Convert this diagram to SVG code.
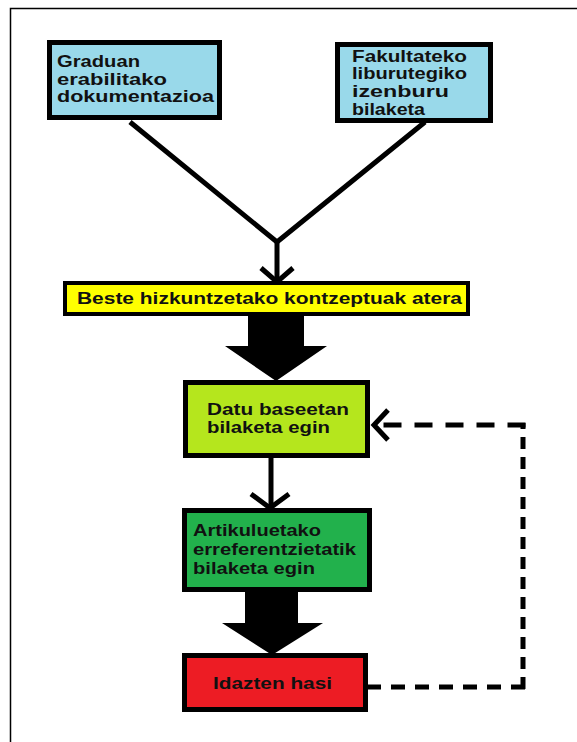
<svg xmlns="http://www.w3.org/2000/svg" width="577" height="742" viewBox="0 0 577 742">
<style>
.box{stroke:#000;stroke-width:5}
.t{font-family:"Liberation Sans",Arial,sans-serif;font-weight:bold;font-size:16.5px;fill:#111}
.ln{fill:none;stroke:#000;stroke-width:5;stroke-linecap:butt;stroke-linejoin:miter}
.dash{fill:none;stroke:#000;stroke-width:5}
.big{fill:#000}
</style>
<rect width="577" height="742" fill="#fff"/>
<path d="M10.5,742 V8.5 H577" fill="none" stroke="#000" stroke-width="1.5"/>

<g id="connectors">
  <polyline class="ln" points="130,122 277,242 425,122"/>
  <line class="ln" x1="277" y1="242" x2="277" y2="281"/>
  <polyline class="ln" points="261,268 277,282 293,268"/>
  <polygon class="big" points="248,315 304,315 304,346 327,346 276,381 225,346 248,346"/>
  <line class="ln" x1="271" y1="458" x2="271" y2="507"/>
  <polyline class="ln" points="251,494 270,508 289,494"/>
  <polygon class="big" points="245,592 298,592 298,623 323,623 272,655 222,623 245,623"/>
  <line class="dash" x1="367" y1="687" x2="525.5" y2="687" stroke-dasharray="14 10"/>
  <line class="dash" x1="523" y1="689" x2="523" y2="423" stroke-dasharray="12 8"/>
  <line class="dash" x1="525.5" y1="425" x2="375" y2="425" stroke-dasharray="18 13"/>
  <polyline class="ln" points="388,410 374,425 388,440"/>
</g>

<g id="n1">
  <rect class="box" x="49.5" y="42.5" width="170" height="75" fill="#99d9ea"/>
  <text class="t" x="57" y="67" textLength="83" lengthAdjust="spacingAndGlyphs">Graduan</text>
  <text class="t" x="57" y="84.5" textLength="110" lengthAdjust="spacingAndGlyphs">erabilitako</text>
  <text class="t" x="57" y="102" textLength="157" lengthAdjust="spacingAndGlyphs">dokumentazioa</text>
</g>
<g id="n2">
  <rect x="337.5" y="44.5" width="153" height="76" fill="#99d9ea"/>
  <text class="t" x="352" y="62" textLength="115" lengthAdjust="spacingAndGlyphs">Fakultateko</text>
  <text class="t" x="352" y="79" textLength="115" lengthAdjust="spacingAndGlyphs">liburutegiko</text>
  <text class="t" x="352" y="96.5" textLength="97" lengthAdjust="spacingAndGlyphs">izenburu</text>
  <text class="t" x="352" y="114.5" textLength="73" lengthAdjust="spacingAndGlyphs">bilaketa</text>
  <rect class="box" x="337.5" y="44.5" width="153" height="76" fill="none"/>
</g>
<g id="n3">
  <rect x="65" y="283" width="403" height="31" fill="#ffff00" stroke="#000" stroke-width="4"/>
  <text class="t" x="77" y="304" textLength="385" lengthAdjust="spacingAndGlyphs" style="font-size:17px">Beste hizkuntzetako kontzeptuak atera</text>
</g>
<g id="n4">
  <rect class="box" x="185.5" y="382.5" width="182" height="73" fill="#b5e61d"/>
  <text class="t" x="207" y="415" textLength="142" lengthAdjust="spacingAndGlyphs">Datu baseetan</text>
  <text class="t" x="207" y="432.5" textLength="123" lengthAdjust="spacingAndGlyphs">bilaketa egin</text>
</g>
<g id="n5">
  <rect class="box" x="184.5" y="510.5" width="185" height="79" fill="#22b14c"/>
  <text class="t" x="193" y="536" textLength="128" lengthAdjust="spacingAndGlyphs">Artikuluetako</text>
  <text class="t" x="193" y="555" textLength="163" lengthAdjust="spacingAndGlyphs">erreferentzietatik</text>
  <text class="t" x="193" y="573.5" textLength="122" lengthAdjust="spacingAndGlyphs">bilaketa egin</text>
</g>
<g id="n6">
  <rect class="box" x="184.5" y="655.5" width="181" height="54" fill="#ed1c24"/>
  <text class="t" x="213" y="689" textLength="119" lengthAdjust="spacingAndGlyphs" style="font-size:17px">Idazten hasi</text>
</g>
</svg>
